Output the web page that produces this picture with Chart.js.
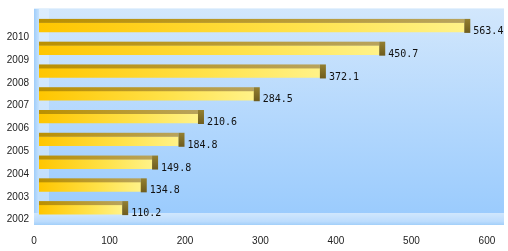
<!DOCTYPE html>
<html>
<head>
<meta charset="utf-8">
<script src="https://cdn.jsdelivr.net/npm/chart.js@4.4.0/dist/chart.umd.min.js"></script>
<style>
  html, body { margin: 0; padding: 0; background: #fff; }
  #wrap { width: 508px; height: 251px; }
</style>
</head>
<body>
<div id="wrap"><canvas id="barChart"></canvas></div>
<script>
// data
const years = ['2002', '2003', '2004', '2005', '2006', '2007', '2008', '2009', '2010'];
const values = [110.2, 134.8, 149.8, 184.8, 210.6, 284.5, 372.1, 450.7, 563.4];
const xTicks = [0, 100, 200, 300, 400, 500, 600];
const xMax = 616;

// blue "3D" wall behind the bars
const wallPlugin = {
  id: 'wall',
  beforeDraw(chart) {
    const { ctx, chartArea: a } = chart;
    const left = a.left - 5, top = a.top - 8, right = a.right, bottom = a.bottom + 4;
    ctx.save();
    let g = ctx.createLinearGradient(0, top, 0, bottom);
    g.addColorStop(0, '#d2e7fc');
    g.addColorStop(0.5, '#b4d8fd');
    g.addColorStop(1, '#98cafd');
    ctx.fillStyle = g;
    ctx.fillRect(left, top, right - left, bottom - top);
    // left side wall
    g = ctx.createLinearGradient(0, top, 0, bottom);
    g.addColorStop(0, '#dcedfd');
    g.addColorStop(1, '#bcdcfd');
    ctx.fillStyle = g;
    ctx.fillRect(left + 5, top, 10, bottom - top);
    g = ctx.createLinearGradient(left, 0, left + 5, 0);
    g.addColorStop(0, '#9fcdfa');
    g.addColorStop(1, '#c6e2fd');
    ctx.fillStyle = g;
    ctx.fillRect(left, top, 5, bottom - top);
    // floor
    g = ctx.createLinearGradient(0, bottom - 12, 0, bottom);
    g.addColorStop(0, '#d0e7fd');
    g.addColorStop(0.7, '#bcdcfd');
    g.addColorStop(1, '#a2cff9');
    ctx.fillStyle = g;
    ctx.fillRect(left, bottom - 12, right - left, 12);
    // top rim
    ctx.fillStyle = '#e4f1fd';
    ctx.fillRect(left, top, right - left, 1);
    ctx.restore();
  }
};

// top face, end cap and value label for each bar
const facesPlugin = {
  id: 'faces',
  afterDatasetsDraw(chart) {
    const { ctx } = chart;
    const meta = chart.getDatasetMeta(0);
    ctx.save();
    meta.data.forEach((bar, i) => {
      const h = bar.height;
      const yTop = bar.y - h / 2;
      let g = ctx.createLinearGradient(bar.base, 0, bar.x, 0);
      g.addColorStop(0, '#bb9000');
      g.addColorStop(1, '#b8a35c');
      ctx.fillStyle = g;
      ctx.fillRect(bar.base, yTop - 4, bar.x - bar.base, 4);

      g = ctx.createLinearGradient(0, yTop - 4, 0, yTop + h + 1);
      g.addColorStop(0, '#948030');
      g.addColorStop(1, '#6e5c1e');
      ctx.fillStyle = g;
      ctx.fillRect(bar.x, yTop - 4, 6, h + 5);

      ctx.fillStyle = '#111';
      ctx.font = '10px "DejaVu Sans Mono"';
      ctx.textAlign = 'left';
      ctx.textBaseline = 'middle';
      ctx.fillText(values[i].toFixed(1), bar.x + 9, bar.y + 4);
    });
    ctx.restore();
  }
};

function frontFace(context) {
  const chart = context.chart;
  const x = chart.scales.x;
  if (!x || context.dataIndex === undefined) return '#ffcc00';
  const x0 = x.getPixelForValue(0);
  const x1 = x.getPixelForValue(values[context.dataIndex]);
  if (!isFinite(x0) || !isFinite(x1)) return '#ffcc00';
  const g = chart.ctx.createLinearGradient(x0, 0, x1, 0);
  g.addColorStop(0, '#ffc600');
  g.addColorStop(0.6, '#ffe24a');
  g.addColorStop(1, '#fff288');
  return g;
}

function createBarChart() {
  const ctx = document.getElementById('barChart').getContext('2d');
  return new Chart(ctx, {
    type: 'bar',
    data: {
      labels: years,
      datasets: [{
        data: values,
        backgroundColor: frontFace,
        borderWidth: 0,
        barThickness: 9
      }]
    },
    options: {
      indexAxis: 'y',
      responsive: true,
      maintainAspectRatio: false,
      animation: false,
      layout: { padding: { top: 14, right: 4, bottom: 0, left: 0 } },
      plugins: {
        legend: { display: false },
        tooltip: { enabled: false }
      },
      scales: {
        x: {
          min: 0,
          max: xMax,
          afterBuildTicks(scale) {
            scale.ticks = xTicks.map(v => ({ value: v }));
          },
          afterFit(scale) {
            scale.height = 30;
            scale.paddingLeft = 0;
            scale.paddingRight = 0;
          },
          grid: { display: false, drawTicks: false },
          border: { display: false },
          ticks: {
            padding: 14,
            labelOffset: -5,
            color: '#222',
            font: { family: 'Liberation Sans', size: 10 }
          }
        },
        y: {
          reverse: true,
          afterFit(scale) { scale.width = 39; },
          grid: { display: false, drawTicks: false },
          border: { display: false },
          ticks: {
            padding: 10,
            labelOffset: 10,
            color: '#222',
            font: { family: 'Liberation Sans', size: 10 }
          }
        }
      }
    },
    plugins: [wallPlugin, facesPlugin]
  });
}

document.addEventListener('DOMContentLoaded', createBarChart);
</script>
</body>
</html>
